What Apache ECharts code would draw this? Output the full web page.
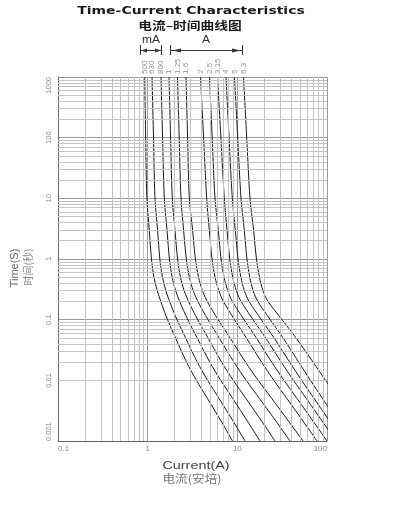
<!DOCTYPE html>
<html><head><meta charset="utf-8">
<script src="https://cdn.jsdelivr.net/npm/echarts@6/dist/echarts.min.js"></script>
<style>html,body{margin:0;padding:0;background:#fff}#c{width:393px;height:532px}</style>
</head><body><div id="c"></div>
<script>
// Fuse ratings (labels at top of each curve)
const ratings = ['500','630','800','1','1.25','1.6','2','2.5','3.15','4','5','6.3'];
// Time levels (s) at which currents were read
const times = [1000,100,10,3,1,0.5,0.3,0.2,0.1,0.05,0.02,0.01,0.005,0.002,0.001];
// Current (A) for each curve at the time levels above
const c500mA = [0.927,0.950,0.980,1.042,1.102,1.175,1.280,1.400,1.665,2.044,2.710,3.501,4.653,6.748,8.831];
const c630mA = [1.118,1.162,1.207,1.290,1.367,1.462,1.596,1.754,2.122,2.647,3.570,4.664,6.258,9.200,12.17];
const c800mA = [1.408,1.467,1.533,1.643,1.747,1.874,2.054,2.271,2.805,3.568,4.924,6.528,8.890,13.32,17.89];
const c1A    = [1.729,1.802,1.882,2.017,2.155,2.321,2.556,2.850,3.610,4.705,6.677,9.018,12.51,19.20,26.30];
const c1_25A = [2.151,2.247,2.353,2.515,2.698,2.917,3.225,3.621,4.707,6.276,9.147,12.56,17.71,27.76,38.67];
const c1_6A  = [2.676,2.788,2.913,3.170,3.408,3.692,4.088,4.610,6.114,8.299,12.32,17.07,24.25,38.41,53.99];
const c2A    = [3.883,4.205,4.552,4.867,5.224,5.641,6.216,6.992,9.305,12.62,18.63,25.52,35.77,55.66,77.35];
const c2_5A  = [4.892,5.244,5.635,6.133,6.583,7.107,7.822,8.808,11.88,16.27,24.19,33.15,46.39,71.98,99.98];
const c3_15A = [6.009,6.557,7.155,7.667,8.233,8.879,9.750,10.99,14.99,20.68,30.90,42.28,58.92,90.91,126.0];
const c4A    = [7.472,8.092,8.788,9.491,10.18,10.96,11.99,13.50,18.54,25.65,38.32,52.12,71.95,109.8,151.2];
const c5A    = [9.297,10.09,10.99,11.96,12.81,13.76,15.02,16.88,23.33,32.36,48.32,65.27,89.40,134.8];
const c6_3A  = [11.71,12.72,13.84,15.18,16.35,17.66,19.34,21.97,31.50,45.15,69.91,96.43,134.6];
const curves = [c500mA,c630mA,c800mA,c1A,c1_25A,c1_6A,c2A,c2_5A,c3_15A,c4A,c5A,c6_3A];
// Axis ticks
const xTicks = [0.1,1,10,100];
const yTicks = [0.001,0.01,0.1,1,10,100,1000];
const xMinor = [0.2,0.3,0.4,0.5,0.6,0.7,0.8,0.9,2,3,4,5,6,7,8,9,20,30,40,50,60,70,80,90];
const yMinor = [0.002,0.003,0.004,0.005,0.006,0.007,0.008,0.009,0.02,0.03,0.04,0.05,0.06,0.07,0.08,0.09,
  0.2,0.3,0.4,0.5,0.6,0.7,0.8,0.9,2,3,4,5,6,7,8,9,20,30,40,50,60,70,80,90,200,300,400,500,600,700,800,900];

const fmt = v => String(Number(Number(v).toPrecision(2)));
const chart = echarts.init(document.getElementById('c'));
const series = [{
  type:'line', data:[], silent:true, z:1,
  markLine:{silent:true, symbol:['none','none'], animation:false, label:{show:false},
    lineStyle:{color:'#c4c4c4', width:1, type:'solid'},
    data:[...xMinor.map(v=>({xAxis:v})), ...yMinor.map(v=>({yAxis:v}))]}
}];
curves.forEach((c,i)=>series.push({
  type:'line', name:ratings[i], data:c.map((v,j)=>[v,times[j]]),
  showSymbol:false, smooth:0.3, silent:true, z:3, clip:true,
  lineStyle:{color:'#1a1a1a', width:1}
}));
series.push({
  type:'scatter', data:curves.map(c=>[c[0],times[0]]), symbolSize:0, silent:true, clip:false, z:4,
  label:{show:true, formatter:p=>ratings[p.dataIndex], rotate:90, position:'top', distance:3,
    align:'left', verticalAlign:'middle', fontSize:8, color:'#777', fontFamily:'Liberation Sans'}
});
const T = (text, x, y, font, fill, extra) => Object.assign({type:'text', x, y,
  style:{text, font, fill, textAlign:'center', textVerticalAlign:'middle', align:'center', verticalAlign:'middle'}}, extra||{});
chart.setOption({
  animation:false,
  grid:{left:58, top:77, right:66, bottom:91},
  xAxis:{type:'log', logBase:10, min:0.1, max:100, splitNumber:3,
    axisLine:{show:true, lineStyle:{color:'#666', width:1}}, axisTick:{show:false},
    axisLabel:{formatter:fmt, fontSize:8, color:'#888', margin:4, fontFamily:'Liberation Sans',
      alignMinLabel:'left', alignMaxLabel:'right'},
    splitLine:{show:true, lineStyle:{color:'#999', width:1}}},
  yAxis:{type:'log', logBase:10, min:0.001, max:1000, splitNumber:6,
    axisLine:{show:true, lineStyle:{color:'#666', width:1}}, axisTick:{show:false},
    axisLabel:{formatter:v=>String(Number(Number(v).toPrecision(1))), fontSize:7.5, color:'#888', rotate:90, margin:5,
      fontFamily:'Liberation Sans', alignMinLabel:'left', alignMaxLabel:'right'},
    splitLine:{show:true, lineStyle:{color:'#999', width:1}}},
  series,
  graphic:[
    T('Time-Current Characteristics', 191, 11, 'bold 11px "DejaVu Sans"', '#1a1a1a', {scaleX:1.27}),
    T('电流–时间曲线图', 190, 25.5, 'bold 11px "Noto Sans CJK SC"', '#1a1a1a', {scaleX:1.25}),
    T('mA', 151, 40, '10px "Liberation Sans"', '#333', {scaleX:1.2}),
    T('A', 206, 40, '10px "Liberation Sans"', '#333', {scaleX:1.2}),
    {type:'line', shape:{x1:140.5,y1:45,x2:140.5,y2:55}, style:{stroke:'#333', lineWidth:1}},
    {type:'line', shape:{x1:161.5,y1:45,x2:161.5,y2:55}, style:{stroke:'#333', lineWidth:1}},
    {type:'line', shape:{x1:141,y1:50.5,x2:161,y2:50.5}, style:{stroke:'#333', lineWidth:1}},
    {type:'polygon', shape:{points:[[141,50.5],[147,48.5],[147,52.5]]}, style:{fill:'#333'}},
    {type:'polygon', shape:{points:[[161,50.5],[155,48.5],[155,52.5]]}, style:{fill:'#333'}},
    {type:'line', shape:{x1:170.5,y1:45,x2:170.5,y2:55}, style:{stroke:'#333', lineWidth:1}},
    {type:'line', shape:{x1:242.5,y1:45,x2:242.5,y2:55}, style:{stroke:'#333', lineWidth:1}},
    {type:'line', shape:{x1:171,y1:50.5,x2:242,y2:50.5}, style:{stroke:'#333', lineWidth:1}},
    {type:'polygon', shape:{points:[[172,50.5],[181,48.5],[181,52.5]]}, style:{fill:'#333'}},
    {type:'polygon', shape:{points:[[241,50.5],[232,48.5],[232,52.5]]}, style:{fill:'#333'}},
    T('Time(S)', 15, 268, '11px "Liberation Sans"', '#666', {rotation:Math.PI/2}),
    T('时间(秒)', 28, 267, '10px "Noto Sans CJK SC"', '#888', {rotation:Math.PI/2}),
    T('Current(A)', 196, 466, '11.5px "Liberation Sans"', '#444', {scaleX:1.25}),
    T('电流(安培)', 192, 479, '11px "Noto Sans CJK SC"', '#777', {scaleX:1.15})
  ]
});
</script></body></html>
